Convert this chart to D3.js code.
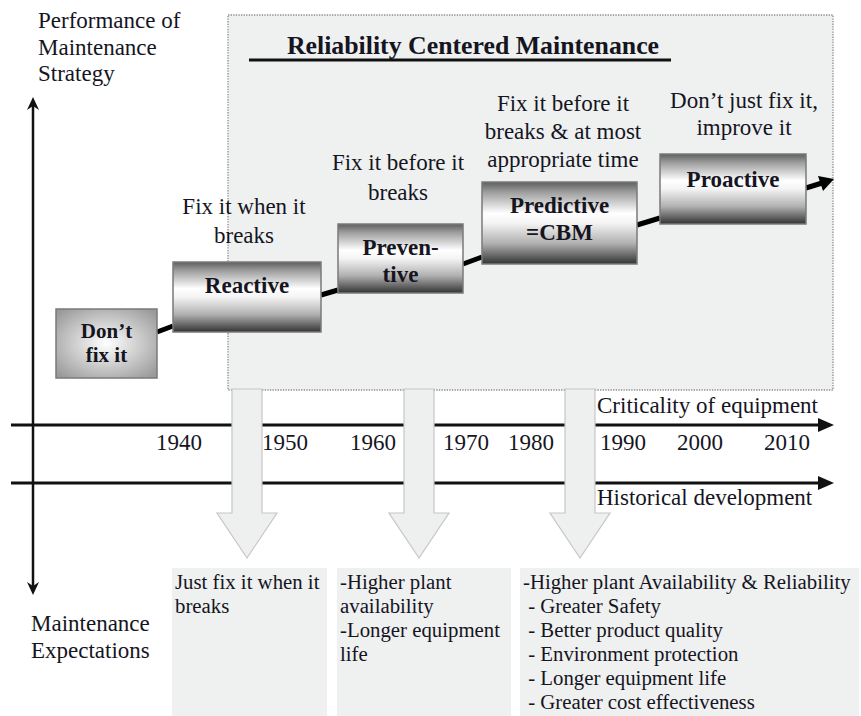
<!DOCTYPE html>
<html><head><meta charset="utf-8">
<script src="https://cdn.jsdelivr.net/npm/d3@7"></script>
<style>
html,body{margin:0;padding:0;background:#fff;}
text{font-family:"Liberation Serif","Times New Roman",serif;fill:#15151f;}
</style></head>
<body><svg id="chart" width="861" height="716"></svg>
<script>
// ---- data ----
const strategies = ["Don’t\nfix it", "Reactive", "Preven-\ntive", "Predictive\n=CBM", "Proactive"];
const mottos = ["", "Fix it when it\nbreaks", "Fix it before it\nbreaks", "Fix it before it\nbreaks & at most\nappropriate time", "Don’t just fix it,\nimprove it"];
const years = [1940, 1950, 1960, 1970, 1980, 1990, 2000, 2010];
const expectations = [
  ["Just fix it when it", "breaks"],
  ["-Higher plant", "availability", "-Longer equipment", "life"],
  ["-Higher plant Availability & Reliability", " - Greater Safety", " - Better product quality", " - Environment protection", " - Longer equipment life", " - Greater cost effectiveness"]
];
const titleText = "Reliability Centered Maintenance";
const axisLabels = {y1: ["Performance of", "Maintenance", "Strategy"], y2: ["Maintenance", "Expectations"], x1: "Criticality of equipment", x2: "Historical development"};

// ---- layout ----
const svg = d3.select("#chart");
const FS = 23;
const xYear = d3.scaleLinear().domain(years).range([179, 285, 373, 466, 531, 623, 700, 787]);
const boxLayout = [
  {x0:56, x1:157, y0:309, y1:378},
  {x0:173, x1:321, y0:262, y1:332},
  {x0:338, x1:463, y0:224, y1:293},
  {x0:482, x1:637, y0:182, y1:264},
  {x0:660, x1:806, y0:154, y1:224}
];
const mottoLayout = [null, {x:244, y:214}, {x:398, y:170}, {x:563, y:111}, {x:744, y:108}];
const mottoStep = [0, 29, 30, 28, 27];

const defs = svg.append("defs");
const lg = defs.append("linearGradient").attr("id","metal").attr("x1",0).attr("y1",0).attr("x2",0).attr("y2",1);
[[0,"#5e5e5e"],[0.12,"#9c9c9c"],[0.38,"#ffffff"],[0.5,"#f4f4f4"],[0.75,"#b0b0b0"],[1,"#333"]].forEach(s=>lg.append("stop").attr("offset",s[0]).attr("stop-color",s[1]));
const rg = defs.append("radialGradient").attr("id","soft").attr("cx",0.5).attr("cy",0.5).attr("r",0.65);
[[0,"#ffffff"],[0.55,"#c8c8c8"],[1,"#9a9a9a"]].forEach(s=>rg.append("stop").attr("offset",s[0]).attr("stop-color",s[1]));

// RCM dotted region
svg.append("rect").attr("x",228).attr("y",15).attr("width",605).attr("height",375)
  .attr("fill","#eff0f0").attr("stroke","#8a8a8a").attr("stroke-width",1.3).attr("stroke-dasharray","1.3,1.3");
svg.append("text").attr("x",473).attr("y",54).attr("text-anchor","middle")
  .attr("font-size",25.8).attr("font-weight","bold").text(titleText);
svg.append("line").attr("x1",249).attr("x2",671).attr("y1",60).attr("y2",60).attr("stroke","#111").attr("stroke-width",3);

// Left axis labels
axisLabels.y1.forEach((t,i)=>svg.append("text").attr("x",38).attr("y",28+i*26.5).attr("font-size",FS).text(t));
axisLabels.y2.forEach((t,i)=>svg.append("text").attr("x",31).attr("y",631+i*27).attr("font-size",FS).text(t));

// vertical double arrow
svg.append("line").attr("x1",33).attr("x2",33).attr("y1",106).attr("y2",586).attr("stroke","#111").attr("stroke-width",2.5);
svg.append("path").attr("d","M33,97 L27,110 L33,106 L39,110 Z").attr("fill","#111");
svg.append("path").attr("d","M33,595 L27,582 L33,586 L39,582 Z").attr("fill","#111");

// horizontal axes
[425, 483].forEach(y=>{
  svg.append("line").attr("x1",11).attr("x2",822).attr("y1",y).attr("y2",y).attr("stroke","#111").attr("stroke-width",3);
  svg.append("path").attr("d",`M834,${y} L818,${y-7} L818,${y+7} Z`).attr("fill","#111");
});
svg.append("text").attr("x",597).attr("y",413).attr("font-size",FS).text(axisLabels.x1);
svg.append("text").attr("x",597).attr("y",505).attr("font-size",FS).text(axisLabels.x2);
svg.selectAll("text.year").data(years).enter().append("text").attr("class","year")
  .attr("x",d=>xYear(d)).attr("y",450).attr("text-anchor","middle").attr("font-size",FS).text(d=>d);

// down block arrows
const downArrowX = [247, 419, 580];
downArrowX.forEach(cx=>{
  const hw=15, hh=30, top=389, neck=513, tip=558;
  svg.append("path").attr("d",`M${cx-hw},${top} L${cx+hw},${top} L${cx+hw},${neck} L${cx+hh},${neck} L${cx},${tip} L${cx-hh},${neck} L${cx-hw},${neck} Z`)
    .attr("fill","#eeefef").attr("stroke","#c6c6c6").attr("stroke-width",1.2);
});

// expectation boxes
const expBoxes = [{x0:172,x1:327},{x0:337,x1:511},{x0:520,x1:859}];
expectations.forEach((lines,i)=>{
  const b = expBoxes[i];
  svg.append("rect").attr("x",b.x0).attr("y",568).attr("width",b.x1-b.x0).attr("height",150).attr("fill","#eff0f0");
  lines.forEach((t,j)=>svg.append("text").attr("x",b.x0+3).attr("y",589+j*24).attr("font-size",20.8)
    .attr("xml:space","preserve").style("white-space","pre").text(t));
});

// connectors
const conn = [[157,332,173,326],[321,295,338,290],[463,264,482,257],[637,225,660,218]];
conn.forEach(c=>svg.append("line").attr("x1",c[0]).attr("y1",c[1]).attr("x2",c[2]).attr("y2",c[3]).attr("stroke","#000").attr("stroke-width",5));
svg.append("line").attr("x1",806).attr("y1",188).attr("x2",822).attr("y2",183).attr("stroke","#000").attr("stroke-width",5);
svg.append("path").attr("d","M834,179 L818,176 L823,191 Z").attr("fill","#000");

// strategy boxes
strategies.forEach((s,i)=>{
  const b = boxLayout[i];
  svg.append("rect").attr("x",b.x0).attr("y",b.y0).attr("width",b.x1-b.x0).attr("height",b.y1-b.y0)
    .attr("fill", i===0 ? "url(#soft)" : "url(#metal)").attr("stroke","#7a7a7a").attr("stroke-width",1.5);
  const lines = s.split("\n");
  const cx = (b.x0+b.x1)/2;
  const baseY = [338, 293, 255, 213, 187][i];
  lines.forEach((t,j)=>svg.append("text").attr("x",cx).attr("y",baseY+j*(i===0?24:27)).attr("text-anchor","middle")
    .attr("font-size",i===0?21:23).attr("font-weight","bold").text(t));
});

// mottos
mottos.forEach((m,i)=>{
  if(!m) return;
  const L = mottoLayout[i];
  m.split("\n").forEach((t,j)=>svg.append("text").attr("x",L.x).attr("y",L.y+j*mottoStep[i]).attr("text-anchor","middle").attr("font-size",FS).text(t));
});
</script></body></html>
